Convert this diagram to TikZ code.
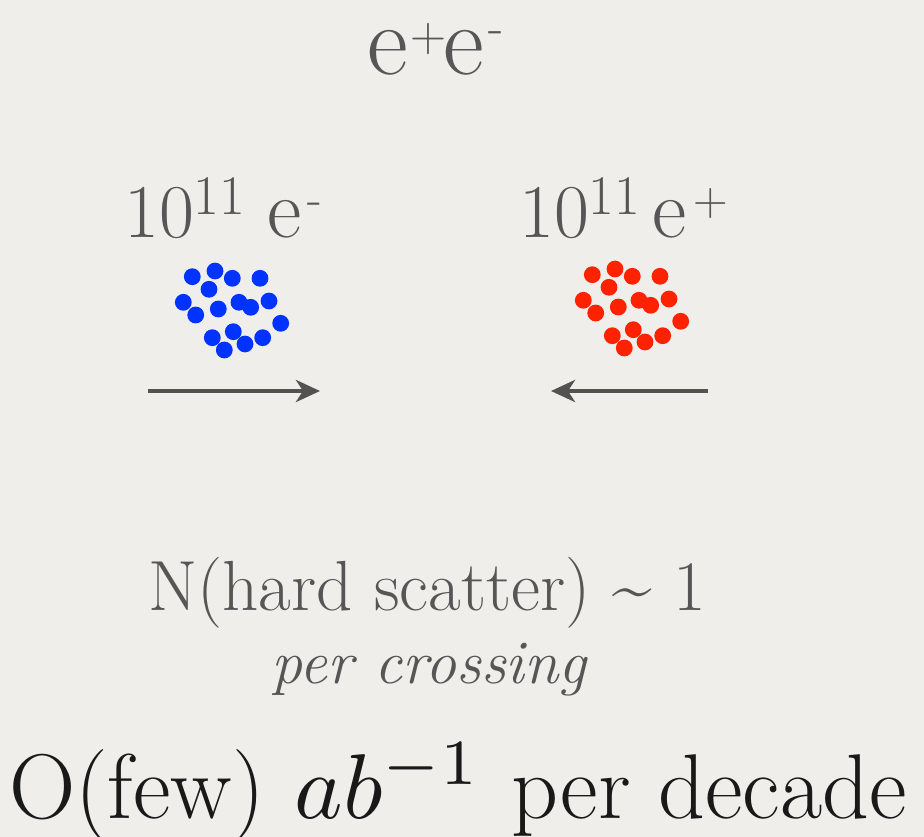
\documentclass[tikz,border=0pt]{standalone}
\usepackage{graphicx}
\usepackage{tikz}
\usetikzlibrary{arrows.meta,positioning,calc}
\definecolor{paper}{RGB}{239,238,235}
\definecolor{slate}{RGB}{86,86,86}
\definecolor{bunchblue}{RGB}{0,51,255}
\definecolor{bunchred}{RGB}{255,34,0}
\newcommand{\fs}[1]{\fontsize{#1}{#1}\selectfont}
\newcommand{\upidx}[3]{\raisebox{#1pt}{\fs{#2}#3}}
\tikzset{
  txt/.style={inner sep=0pt,anchor=base,text=slate},
  beam/.style={-{Stealth[length=24pt,width=22pt,inset=7pt]},line width=4.5pt,draw=slate!95!black},
  dot/.style={radius=8.4}
}

\begin{document}
\begin{tikzpicture}[x=1pt,y=-1pt]
  \fill[paper] (0,0) rectangle (924,837);
  \useasboundingbox (0,0) rectangle (924,837);
  % headline
  \node[txt,anchor=base west] (title) at (367,75)
    {\fs{100}e\hspace{3pt}\upidx{23.5}{50}{+}\hspace{-3pt}e\hspace{4pt}\upidx{31}{50}{-}};
  % bunch labels
  \node[txt,anchor=base west] (nelec) at (124,238)
    {\fs{76}10\upidx{23}{56}{11}\hspace{22pt}\fs{84}e\hspace{6pt}\upidx{24}{48}{-}};
  \node[txt,anchor=base west] (npos) at (519,238)
    {\fs{76}10\upidx{23}{56}{11}\hspace{12pt}\fs{84}e\hspace{7pt}\upidx{22.5}{48}{+}};
  % the two bunches
  \foreach \bx/\by in {192.3/276.7,215/271,232.3/278.3,260/278.3,209/289.3,183.3/302.3,
      195.7/315,218.3/309,239/302.3,250.7/307.3,269/301,280.7/323.3,212.3/337.7,
      233.3/331.7,224.3/350,245/344,262.7/337.7}{
    \fill[bunchblue] (\bx,\by) circle[dot];
    \fill[bunchred] ($(\bx,\by)+(400,-2)$) circle[dot];
  }
  % beam directions
  \coordinate (eL0) at (148,391);
  \coordinate (eL1) at (320,391);
  \coordinate (pR0) at (708,391);
  \coordinate (pR1) at (551,391);
  \draw[beam] (eL0) -- (eL1);
  \draw[beam] (pR0) -- (pR1);
  % rates
  \node[txt] (hard) at (427,610) {\fs{71}N(hard scatter) \textasciitilde\ 1};
  \node[txt] (cross) at (429,683) {\fs{62}\itshape per crossing};
  \node[txt,text=black!90] (lumi) at (458,818)
    {\fs{92}O(few)\hspace{30pt}\scalebox{9.2}{\fs{10}$ab^{-1}$}\hspace{30pt}per decade};
\end{tikzpicture}
\end{document}
